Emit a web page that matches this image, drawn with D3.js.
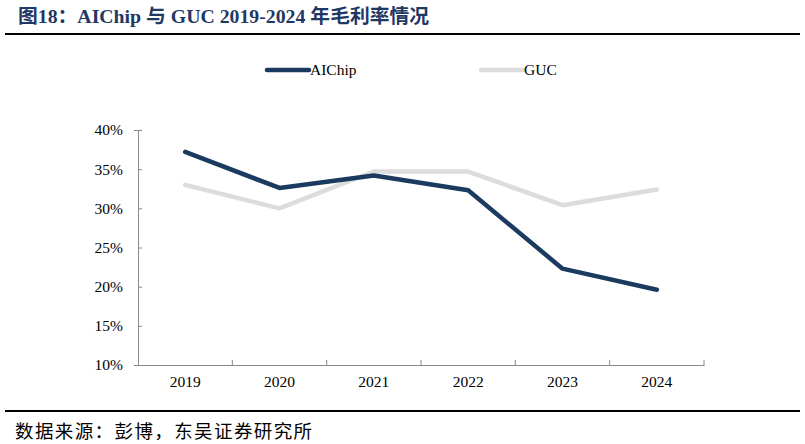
<!DOCTYPE html>
<html><head><meta charset="utf-8">
<script src="https://cdn.jsdelivr.net/npm/d3@7"></script>
<style>body{margin:0;background:#fff;}svg{display:block;}</style>
</head><body>
<svg id="c" width="805" height="444"></svg>
<script>
const years = ["2019","2020","2021","2022","2023","2024"];
const aichip = [37.2, 32.6, 34.2, 32.3, 22.3, 19.6];
const guc = [33.0, 30.0, 34.7, 34.7, 30.4, 32.4];
const yTicks = [10, 15, 20, 25, 30, 35, 40];
const seriesNames = ["AIChip", "GUC"];
const colors = ["#1b3a60", "#dcdcdc"];

const svg = d3.select("#c");
const serif = "'Liberation Serif','Times New Roman',serif";
const cjk = "'Noto Sans CJK SC',sans-serif";

// title
svg.append("text").attr("x", 18).attr("y", 23)
  .attr("font-family", serif + "," + cjk).attr("font-weight", "bold")
  .attr("font-size", 19.8).attr("fill", "#1f3864")
  .text("图18：AIChip 与 GUC 2019-2024 年毛利率情况");
svg.append("line").attr("x1", 5).attr("x2", 800).attr("y1", 34).attr("y2", 34)
  .attr("stroke", "#000").attr("stroke-width", 2);
svg.append("line").attr("x1", 5).attr("x2", 800).attr("y1", 411).attr("y2", 411)
  .attr("stroke", "#000").attr("stroke-width", 2);
svg.append("text").attr("x", 15).attr("y", 438)
  .attr("font-family", cjk).attr("font-size", 18.5).attr("letter-spacing", 1.4).attr("fill", "#000")
  .text("数据来源：彭博，东吴证券研究所");

const x = d3.scaleBand().domain(years).range([138, 704]);
const y = d3.scaleLinear().domain([10, 40]).range([365, 130]);

const gy = svg.append("g").attr("transform", "translate(138,0)")
  .call(d3.axisLeft(y).tickValues(yTicks).tickSize(4).tickFormat(d => d + "%"));
const gx = svg.append("g").attr("transform", "translate(0,365)")
  .call(d3.axisBottom(x).tickSize(0).tickPadding(11));
// boundary ticks for x
const bounds = years.map(d => x(d) + x.bandwidth());
svg.append("g").selectAll("line").data(bounds).join("line")
  .attr("x1", d => d).attr("x2", d => d).attr("y1", 365).attr("y2", 360)
  .attr("stroke", "#888");
[gx, gy].forEach(g => {
  g.select(".domain").attr("stroke", "#888");
  g.selectAll(".tick line").attr("stroke", "#888");
  g.selectAll("text").attr("font-family", serif).attr("font-size", 15.5).attr("fill", "#000");
});
gy.selectAll(".tick line").attr("x2", 0).attr("x1", 4);
gy.selectAll("text").attr("x", -15);

const line = d3.line().x((d, i) => x(years[i]) + x.bandwidth() / 2).y(d => y(d));
[guc, aichip].forEach((s, k) => {
  const ci = k === 0 ? 1 : 0;
  svg.append("path").datum(s).attr("d", line).attr("fill", "none")
    .attr("stroke", colors[ci]).attr("stroke-width", 4.5)
    .attr("stroke-linejoin", "round").attr("stroke-linecap", "round");
});

// legend
const lx = [267, 481];
seriesNames.forEach((n, i) => {
  svg.append("line").attr("x1", lx[i]).attr("x2", lx[i] + 42).attr("y1", 70).attr("y2", 70)
    .attr("stroke", colors[i]).attr("stroke-width", 4.5).attr("stroke-linecap", "round");
  svg.append("text").attr("x", lx[i] + 43).attr("y", 75)
    .attr("font-family", serif).attr("font-size", 15.5).attr("fill", "#000").text(n);
});
</script>
</body></html>
